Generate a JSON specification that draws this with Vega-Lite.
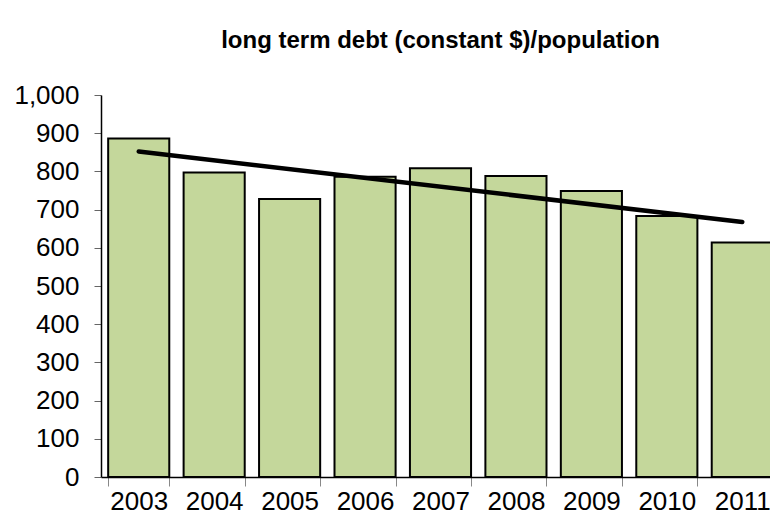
{
  "$schema": "https://vega.github.io/schema/vega-lite/v6.json",
  "autosize": "none",
  "width": 679,
  "height": 382,
  "padding": {"left": 101, "top": 95, "right": -10, "bottom": 54},
  "background": "white",
  "config": {"view": {"stroke": null}},
  "title": {
    "text": "long term debt (constant $)/population",
    "font": "Liberation Sans",
    "fontSize": 24,
    "fontWeight": "bold",
    "color": "black",
    "anchor": "middle",
    "offset": 29
  },
  "data": {
    "values": [
      {"year": 2003, "value": 886},
      {"year": 2004, "value": 797},
      {"year": 2005, "value": 728},
      {"year": 2006, "value": 786},
      {"year": 2007, "value": 808},
      {"year": 2008, "value": 788},
      {"year": 2009, "value": 749},
      {"year": 2010, "value": 683},
      {"year": 2011, "value": 614}
    ]
  },
  "encoding": {
    "x": {
      "field": "year",
      "type": "ordinal",
      "scale": {"paddingInner": 0.19, "paddingOuter": 0.095},
      "axis": {
        "title": null,
        "labelAngle": 0,
        "labelOverlap": false,
        "labelFont": "Liberation Sans",
        "labelFontSize": 26,
        "labelColor": "black",
        "labelPadding": 2,
        "tickBand": "extent",
        "tickSize": 9,
        "tickColor": "#888",
        "domainColor": "black",
        "domainWidth": 1.5
      }
    },
    "y": {
      "field": "value",
      "type": "quantitative",
      "scale": {"domain": [0, 1000], "nice": false},
      "axis": {
        "title": null,
        "grid": false,
        "values": [0, 100, 200, 300, 400, 500, 600, 700, 800, 900, 1000],
        "labelOverlap": false,
        "labelSeparation": 0,
        "format": ",.0f",
        "labelFont": "Liberation Sans",
        "labelFontSize": 26,
        "labelColor": "black",
        "labelPadding": 15,
        "tickSize": 7,
        "tickColor": "#666",
        "domainColor": "black",
        "domainWidth": 1.5
      }
    }
  },
  "layer": [
    {
      "mark": {"type": "bar", "fill": "#c4d79b", "stroke": "black", "strokeWidth": 2}
    },
    {
      "transform": [
        {"regression": "value", "on": "year", "method": "linear", "extent": [2003, 2011]}
      ],
      "mark": {"type": "line", "color": "black", "strokeWidth": 4.5, "strokeCap": "round"}
    }
  ]
}
